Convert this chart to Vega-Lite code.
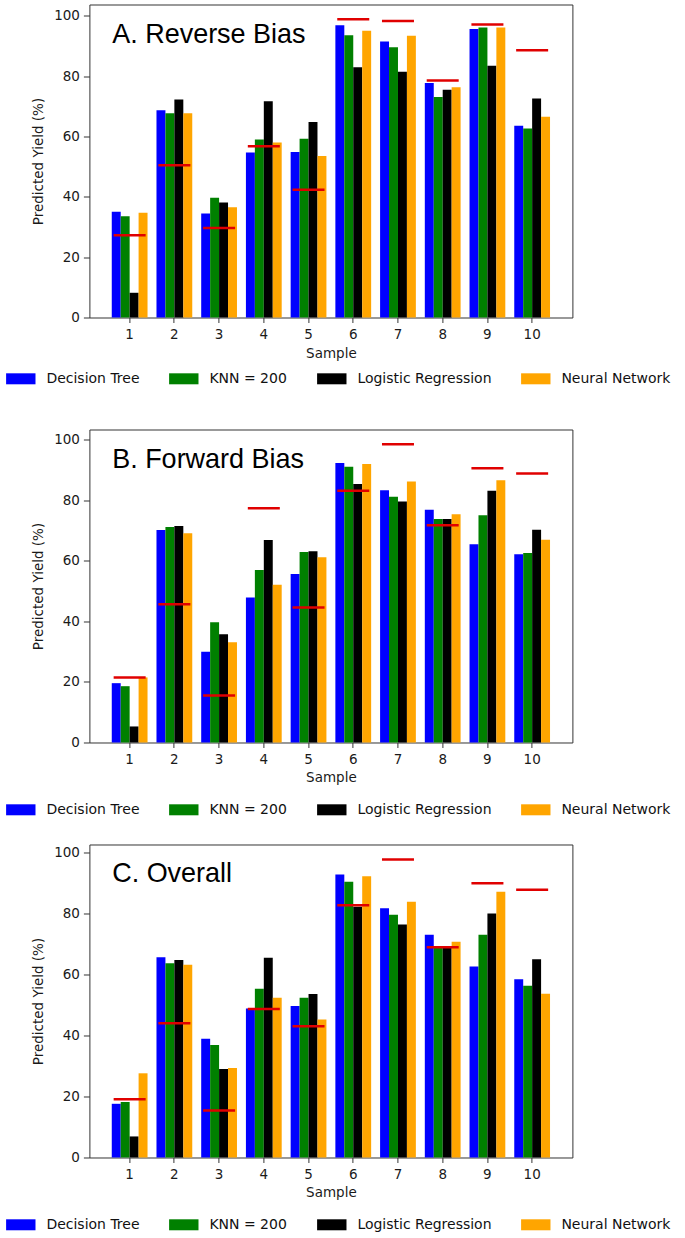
{
  "$schema": "https://vega.github.io/schema/vega-lite/v6.json",
  "padding": {"left": 4.4, "top": 3.5, "right": 0, "bottom": 0},
  "background": "white",
  "datasets": {
    "yields": [
      {"panel": "A", "sample": 1, "Decision Tree": 35.1, "KNN = 200": 33.6, "Logistic Regression": 8.2, "Neural Network": 34.7, "actual": 27.3},
      {"panel": "A", "sample": 2, "Decision Tree": 68.7, "KNN = 200": 67.7, "Logistic Regression": 72.3, "Neural Network": 67.7, "actual": 50.5},
      {"panel": "A", "sample": 3, "Decision Tree": 34.5, "KNN = 200": 39.7, "Logistic Regression": 38.1, "Neural Network": 36.6, "actual": 29.7},
      {"panel": "A", "sample": 4, "Decision Tree": 54.7, "KNN = 200": 59.0, "Logistic Regression": 71.7, "Neural Network": 58.0, "actual": 56.8},
      {"panel": "A", "sample": 5, "Decision Tree": 54.9, "KNN = 200": 59.3, "Logistic Regression": 64.8, "Neural Network": 53.6, "actual": 42.4},
      {"panel": "A", "sample": 6, "Decision Tree": 96.9, "KNN = 200": 93.6, "Logistic Regression": 83.0, "Neural Network": 95.1, "actual": 98.9},
      {"panel": "A", "sample": 7, "Decision Tree": 91.5, "KNN = 200": 89.6, "Logistic Regression": 81.5, "Neural Network": 93.4, "actual": 98.3},
      {"panel": "A", "sample": 8, "Decision Tree": 77.8, "KNN = 200": 73.1, "Logistic Regression": 75.5, "Neural Network": 76.4, "actual": 78.6},
      {"panel": "A", "sample": 9, "Decision Tree": 95.7, "KNN = 200": 96.2, "Logistic Regression": 83.5, "Neural Network": 96.2, "actual": 97.2},
      {"panel": "A", "sample": 10, "Decision Tree": 63.6, "KNN = 200": 62.7, "Logistic Regression": 72.6, "Neural Network": 66.6, "actual": 88.6},
      {"panel": "B", "sample": 1, "Decision Tree": 19.6, "KNN = 200": 18.6, "Logistic Regression": 5.3, "Neural Network": 21.5, "actual": 21.5},
      {"panel": "B", "sample": 2, "Decision Tree": 70.2, "KNN = 200": 71.2, "Logistic Regression": 71.5, "Neural Network": 69.1, "actual": 45.7},
      {"panel": "B", "sample": 3, "Decision Tree": 30.0, "KNN = 200": 39.7, "Logistic Regression": 35.8, "Neural Network": 33.1, "actual": 15.5},
      {"panel": "B", "sample": 4, "Decision Tree": 47.9, "KNN = 200": 57.0, "Logistic Regression": 66.9, "Neural Network": 52.1, "actual": 77.4},
      {"panel": "B", "sample": 5, "Decision Tree": 55.7, "KNN = 200": 62.9, "Logistic Regression": 63.2, "Neural Network": 61.2, "actual": 44.6},
      {"panel": "B", "sample": 6, "Decision Tree": 92.3, "KNN = 200": 91.1, "Logistic Regression": 85.4, "Neural Network": 92.0, "actual": 83.2},
      {"panel": "B", "sample": 7, "Decision Tree": 83.3, "KNN = 200": 81.2, "Logistic Regression": 79.6, "Neural Network": 86.2, "actual": 98.5},
      {"panel": "B", "sample": 8, "Decision Tree": 76.9, "KNN = 200": 73.8, "Logistic Regression": 73.8, "Neural Network": 75.4, "actual": 71.8},
      {"panel": "B", "sample": 9, "Decision Tree": 65.5, "KNN = 200": 75.1, "Logistic Regression": 83.2, "Neural Network": 86.6, "actual": 90.6},
      {"panel": "B", "sample": 10, "Decision Tree": 62.2, "KNN = 200": 62.6, "Logistic Regression": 70.3, "Neural Network": 67.0, "actual": 88.9},
      {"panel": "C", "sample": 1, "Decision Tree": 17.6, "KNN = 200": 18.2, "Logistic Regression": 6.9, "Neural Network": 27.6, "actual": 19.1},
      {"panel": "C", "sample": 2, "Decision Tree": 65.6, "KNN = 200": 63.7, "Logistic Regression": 64.7, "Neural Network": 63.2, "actual": 44.0},
      {"panel": "C", "sample": 3, "Decision Tree": 38.9, "KNN = 200": 36.9, "Logistic Regression": 29.0, "Neural Network": 29.3, "actual": 15.4},
      {"panel": "C", "sample": 4, "Decision Tree": 48.8, "KNN = 200": 55.3, "Logistic Regression": 65.5, "Neural Network": 52.4, "actual": 48.7},
      {"panel": "C", "sample": 5, "Decision Tree": 49.7, "KNN = 200": 52.4, "Logistic Regression": 53.6, "Neural Network": 45.2, "actual": 43.0},
      {"panel": "C", "sample": 6, "Decision Tree": 92.8, "KNN = 200": 90.4, "Logistic Regression": 82.2, "Neural Network": 92.2, "actual": 82.7},
      {"panel": "C", "sample": 7, "Decision Tree": 81.7, "KNN = 200": 79.6, "Logistic Regression": 76.4, "Neural Network": 83.8, "actual": 97.7},
      {"panel": "C", "sample": 8, "Decision Tree": 73.0, "KNN = 200": 69.3, "Logistic Regression": 68.8, "Neural Network": 70.7, "actual": 68.9},
      {"panel": "C", "sample": 9, "Decision Tree": 62.6, "KNN = 200": 73.0, "Logistic Regression": 80.0, "Neural Network": 87.1, "actual": 89.9},
      {"panel": "C", "sample": 10, "Decision Tree": 58.4, "KNN = 200": 56.3, "Logistic Regression": 65.0, "Neural Network": 53.7, "actual": 87.8}
    ]
  },
  "config": {
    "font": "DejaVu Sans",
    "view": {"stroke": "#333333", "strokeWidth": 1},
    "axis": {"grid": false, "domain": false, "tickColor": "#333333", "tickWidth": 1, "labelFont": "DejaVu Sans", "labelFontSize": 13.5, "labelColor": "#1a1a1a", "titleFont": "DejaVu Sans", "titleFontSize": 13.5, "titleFontWeight": "normal", "titleColor": "#1a1a1a"},
    "axisX": {"tickSize": 5, "labelPadding": 5, "titlePadding": 5, "labelAngle": 0},
    "axisY": {"tickSize": 6, "labelPadding": 4, "titlePadding": 8}
  },
  "resolve": {"scale": {"x": "independent", "y": "independent", "color": "independent", "xOffset": "independent"}, "legend": {"color": "independent"}},
  "spacing": 42,
  "vconcat": [
    {
      "width": 483, "height": 313,
      "data": {"name": "yields"},
      "layer": [
        {
          "transform": [{"filter": {"field": "panel", "equal": "A"}}, {"fold": ["Decision Tree", "KNN = 200", "Logistic Regression", "Neural Network"], "as": ["model", "yield"]}],
          "mark": {"type": "bar"},
          "encoding": {
            "x": {"field": "sample", "type": "ordinal", "scale": {"paddingInner": 0.2, "paddingOuter": 0.5}, "axis": {"title": "Sample"}},
            "xOffset": {"field": "model", "type": "nominal", "scale": {"paddingInner": 0, "paddingOuter": 0}},
            "y": {"field": "yield", "type": "quantitative", "scale": {"domain": [0, 103.8], "nice": false}, "axis": {"title": "Predicted Yield (%)", "values": [0, 20, 40, 60, 80, 100]}},
            "color": {"field": "model", "type": "nominal", "scale": {"domain": ["Decision Tree", "KNN = 200", "Logistic Regression", "Neural Network"], "range": ["#0000ff", "#008000", "#000000", "#ffa500"]},
              "legend": {"orient": "none", "legendX": -83.6, "legendY": 359.3, "direction": "horizontal", "columns": 4, "title": null, "symbolType": "M-1,-0.374H1V0.374H-1Z", "symbolSize": 864, "symbolStrokeWidth": 0, "symbolOpacity": 1, "labelFont": "DejaVu Sans", "labelFontSize": 14, "labelColor": "#111111", "labelOffset": 10.6, "columnPadding": 29}}
          }
        },
        {
          "transform": [{"filter": {"field": "panel", "equal": "A"}}],
          "mark": {"type": "tick", "color": "#e00000", "size": 32, "thickness": 2.5, "opacity": 1},
          "encoding": {"x": {"field": "sample", "type": "ordinal"}, "y": {"field": "actual", "type": "quantitative"}}
        },
        {
          "data": {"values": [{"label": "A. Reverse Bias"}]},
          "mark": {"type": "text", "align": "left", "baseline": "alphabetic", "font": "Liberation Sans", "fontSize": 27, "dx": -17.5, "color": "#000000"},
          "encoding": {"x": {"datum": 1, "type": "ordinal"}, "y": {"datum": 90.9, "type": "quantitative"}, "text": {"field": "label"}}
        }
      ]
    },
    {
      "resolve": {"scale": {"x": "independent", "y": "independent", "color": "independent", "xOffset": "independent"}, "legend": {"color": "independent"}},
      "spacing": 26,
      "vconcat": [
        {
          "width": 483, "height": 313,
          "data": {"name": "yields"},
          "layer": [
            {
              "transform": [{"filter": {"field": "panel", "equal": "B"}}, {"fold": ["Decision Tree", "KNN = 200", "Logistic Regression", "Neural Network"], "as": ["model", "yield"]}],
              "mark": {"type": "bar"},
              "encoding": {
                "x": {"field": "sample", "type": "ordinal", "scale": {"paddingInner": 0.2, "paddingOuter": 0.5}, "axis": {"title": "Sample"}},
                "xOffset": {"field": "model", "type": "nominal", "scale": {"paddingInner": 0, "paddingOuter": 0}},
                "y": {"field": "yield", "type": "quantitative", "scale": {"domain": [0, 103.4], "nice": false}, "axis": {"title": "Predicted Yield (%)", "values": [0, 20, 40, 60, 80, 100]}},
                "color": {"field": "model", "type": "nominal", "scale": {"domain": ["Decision Tree", "KNN = 200", "Logistic Regression", "Neural Network"], "range": ["#0000ff", "#008000", "#000000", "#ffa500"]},
                  "legend": {"orient": "none", "legendX": -83.6, "legendY": 365.3, "direction": "horizontal", "columns": 4, "title": null, "symbolType": "M-1,-0.374H1V0.374H-1Z", "symbolSize": 864, "symbolStrokeWidth": 0, "symbolOpacity": 1, "labelFont": "DejaVu Sans", "labelFontSize": 14, "labelColor": "#111111", "labelOffset": 10.6, "columnPadding": 29}}
              }
            },
            {
              "transform": [{"filter": {"field": "panel", "equal": "B"}}],
              "mark": {"type": "tick", "color": "#e00000", "size": 32, "thickness": 2.5, "opacity": 1},
              "encoding": {"x": {"field": "sample", "type": "ordinal"}, "y": {"field": "actual", "type": "quantitative"}}
            },
            {
              "data": {"values": [{"label": "B. Forward Bias"}]},
              "mark": {"type": "text", "align": "left", "baseline": "alphabetic", "font": "Liberation Sans", "fontSize": 27, "dx": -17.5, "color": "#000000"},
              "encoding": {"x": {"datum": 1, "type": "ordinal"}, "y": {"datum": 90.6, "type": "quantitative"}, "text": {"field": "label"}}
            }
          ]
        },
        {
          "width": 483, "height": 313,
          "data": {"name": "yields"},
          "layer": [
            {
              "transform": [{"filter": {"field": "panel", "equal": "C"}}, {"fold": ["Decision Tree", "KNN = 200", "Logistic Regression", "Neural Network"], "as": ["model", "yield"]}],
              "mark": {"type": "bar"},
              "encoding": {
                "x": {"field": "sample", "type": "ordinal", "scale": {"paddingInner": 0.2, "paddingOuter": 0.5}, "axis": {"title": "Sample"}},
                "xOffset": {"field": "model", "type": "nominal", "scale": {"paddingInner": 0, "paddingOuter": 0}},
                "y": {"field": "yield", "type": "quantitative", "scale": {"domain": [0, 102.6], "nice": false}, "axis": {"title": "Predicted Yield (%)", "values": [0, 20, 40, 60, 80, 100]}},
                "color": {"field": "model", "type": "nominal", "scale": {"domain": ["Decision Tree", "KNN = 200", "Logistic Regression", "Neural Network"], "range": ["#0000ff", "#008000", "#000000", "#ffa500"]},
                  "legend": {"orient": "none", "legendX": -83.6, "legendY": 365.3, "direction": "horizontal", "columns": 4, "title": null, "symbolType": "M-1,-0.374H1V0.374H-1Z", "symbolSize": 864, "symbolStrokeWidth": 0, "symbolOpacity": 1, "labelFont": "DejaVu Sans", "labelFontSize": 14, "labelColor": "#111111", "labelOffset": 10.6, "columnPadding": 29}}
              }
            },
            {
              "transform": [{"filter": {"field": "panel", "equal": "C"}}],
              "mark": {"type": "tick", "color": "#e00000", "size": 32, "thickness": 2.5, "opacity": 1},
              "encoding": {"x": {"field": "sample", "type": "ordinal"}, "y": {"field": "actual", "type": "quantitative"}}
            },
            {
              "data": {"values": [{"label": "C. Overall"}]},
              "mark": {"type": "text", "align": "left", "baseline": "alphabetic", "font": "Liberation Sans", "fontSize": 27, "dx": -17.5, "color": "#000000"},
              "encoding": {"x": {"datum": 1, "type": "ordinal"}, "y": {"datum": 90.4, "type": "quantitative"}, "text": {"field": "label"}}
            }
          ]
        }
      ]
    }
  ]
}
